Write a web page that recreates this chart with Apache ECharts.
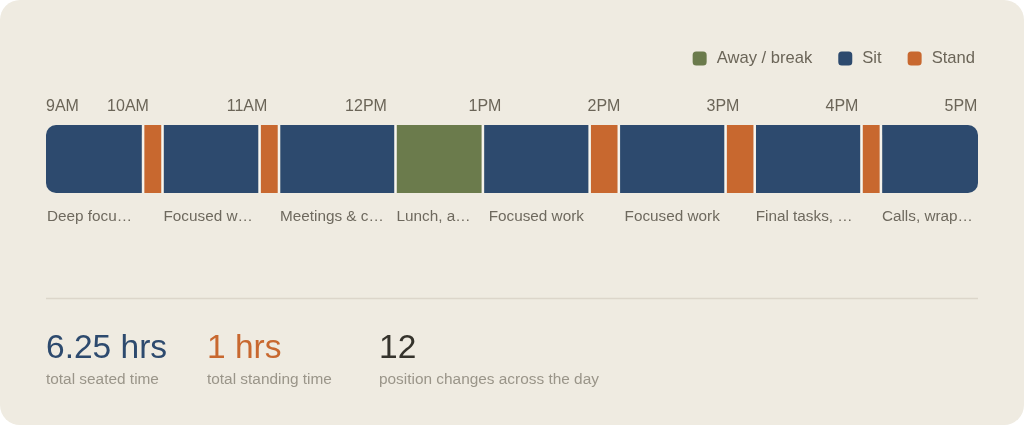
<!DOCTYPE html>
<html>
<head>
<meta charset="utf-8">
<script src="https://cdn.jsdelivr.net/npm/echarts@6/dist/echarts.min.js"></script>
<style>
  html, body { margin: 0; padding: 0; background: #ffffff; }
  #chart { width: 1024px; height: 425px; background: #efebe1; border-radius: 20px; overflow: hidden; }
</style>
</head>
<body>
<div id="chart"></div>
<script>
// ---- data ----
const tickLabels = ['9AM', '10AM', '11AM', '12PM', '1PM', '2PM', '3PM', '4PM', '5PM'];
const segStarts = ['9:00', '9:50', '10:00', '10:50', '11:00', '12:00', '12:45', '13:40', '13:55', '14:50', '15:05', '16:00', '16:10'];
const segEnds   = ['9:50', '10:00', '10:50', '11:00', '12:00', '12:45', '13:40', '13:55', '14:50', '15:05', '16:00', '16:10', '17:00'];
const segTypes  = ['Sit', 'Stand', 'Sit', 'Stand', 'Sit', 'Away / break', 'Sit', 'Stand', 'Sit', 'Stand', 'Sit', 'Stand', 'Sit'];
const segLabels = ['Deep focus work', 'Stretch', 'Focused work', 'Stretch', 'Meetings & check-ins', 'Lunch, away from desk',
                   'Focused work', 'Stand-up', 'Focused work', 'Stretch', 'Final tasks, email', 'Stretch', 'Calls, wrap-up'];
const typeNames  = ['Away / break', 'Sit', 'Stand'];
const typeColors = ['#6b7b4c', '#2d4a6e', '#c8682f'];
const statValues   = ['6.25 hrs', '1 hrs', '12'];
const statCaptions = ['total seated time', 'total standing time', 'position changes across the day'];
const statColors   = ['#2d4a6e', '#c8682f', '#35332c'];

// ---- helpers ----
function toHours(t) { const p = t.split(':'); return +p[0] + (+p[1]) / 60; }
const FONT = '"Liberation Sans", Arial, Helvetica, sans-serif';
const LABEL_FONT = '15.3px ' + FONT;
const nSeg = segStarts.length;
const measureCtx = document.createElement('canvas').getContext('2d');
function textWidth(t, font) { measureCtx.font = font; return measureCtx.measureText(t).width; }

function renderSeg(params, api) {
  const s = api.value(0), e = api.value(1), idx = api.value(2);
  const tl = api.coord([s, 1]);
  const br = api.coord([e, 0]);
  const gap = 1.3;
  const x0 = idx === 0 ? tl[0] : tl[0] + gap;
  const x1 = idx === nSeg - 1 ? br[0] : br[0] - gap;
  const h = br[1] - tl[1];
  let r = 0;
  if (idx === 0) r = [10, 0, 0, 10];
  else if (idx === nSeg - 1) r = [0, 10, 10, 0];
  const color = api.visual('color');
  const children = [{
    type: 'rect',
    shape: { x: x0, y: tl[1], width: x1 - x0, height: h, r: r },
    style: { fill: color }
  }];
  if (idx > 0) {
    children.push({
      type: 'line',
      shape: { x1: tl[0], y1: tl[1], x2: tl[0], y2: br[1] },
      style: { stroke: '#f8f6f0', lineWidth: 1.3 }
    });
  }
  if (segTypes[idx] !== 'Stand') {
    const w = br[0] - tl[0];
    const limit = w - 4;
    const fits = textWidth(segLabels[idx], LABEL_FONT) <= limit;
    children.push({
      type: 'text',
      style: {
        text: segLabels[idx],
        x: fits ? tl[0] + w / 2 : tl[0] + 1, y: br[1] + 24,
        width: limit, overflow: 'truncate', ellipsis: '…',
        align: fits ? 'center' : 'left', verticalAlign: 'middle',
        fill: '#6e695e', font: LABEL_FONT
      }
    });
  }
  return { type: 'group', children: children };
}

const series = typeNames.map(function (name, ti) {
  const data = [];
  for (let i = 0; i < nSeg; i++) {
    if (segTypes[i] === name) data.push([toHours(segStarts[i]), toHours(segEnds[i]), i]);
  }
  return {
    name: name, type: 'custom', xAxisIndex: 0, yAxisIndex: 0,
    itemStyle: { color: typeColors[ti] },
    renderItem: renderSeg, data: data, encode: { x: [0, 1] }, clip: false
  };
});

const graphics = [{
  type: 'line', shape: { x1: 46, y1: 298.5, x2: 978, y2: 298.5 },
  style: { stroke: '#dcd6ca', lineWidth: 1.5 }, silent: true
}];
const statX = [46, 207, 379];
for (let i = 0; i < statValues.length; i++) {
  graphics.push({ type: 'text', x: statX[i], y: 349,
    style: { text: statValues[i], fill: statColors[i], font: '33.5px ' + FONT, verticalAlign: 'middle' } });
  graphics.push({ type: 'text', x: statX[i], y: 380,
    style: { text: statCaptions[i], fill: '#9a9589', font: '15.4px ' + FONT, verticalAlign: 'middle' } });
}

const chart = echarts.init(document.getElementById('chart'), null, { renderer: 'canvas' });
chart.setOption({
  backgroundColor: 'transparent',
  animation: false,
  legend: {
    data: typeNames, right: 49, top: 50, padding: 0,
    icon: 'roundRect', itemWidth: 14, itemHeight: 14, itemGap: 26,
    textStyle: { color: '#6b6558', fontSize: 16.6, fontFamily: FONT, padding: [0, 0, 0, 5] }
  },
  grid: [
    { left: 46, right: 46, top: 125, height: 68 },
    { left: 9, right: 63, top: 125, height: 68 }
  ],
  xAxis: [
    { gridIndex: 0, type: 'value', position: 'top', min: 9, max: 17, interval: 1,
      axisLine: { show: false }, axisTick: { show: false }, splitLine: { show: false },
      axisLabel: { show: true, margin: 10, color: '#6b6558', fontSize: 16, fontFamily: FONT,
        alignMinLabel: 'left', showMaxLabel: false,
        formatter: function (v) { return v === 9 ? tickLabels[0] : ''; } } },
    { gridIndex: 1, type: 'value', position: 'top', min: 9, max: 17, interval: 1,
      axisLine: { show: false }, axisTick: { show: false }, splitLine: { show: false },
      axisLabel: { show: true, margin: 10, color: '#6b6558', fontSize: 16, fontFamily: FONT,
        showMinLabel: false, showMaxLabel: true,
        formatter: function (v) { return tickLabels[Math.round(v - 9)]; } } }
  ],
  yAxis: [
    { gridIndex: 0, type: 'value', min: 0, max: 1, show: false },
    { gridIndex: 1, type: 'value', min: 0, max: 1, show: false }
  ],
  graphic: graphics,
  series: series
});
</script>
</body>
</html>
